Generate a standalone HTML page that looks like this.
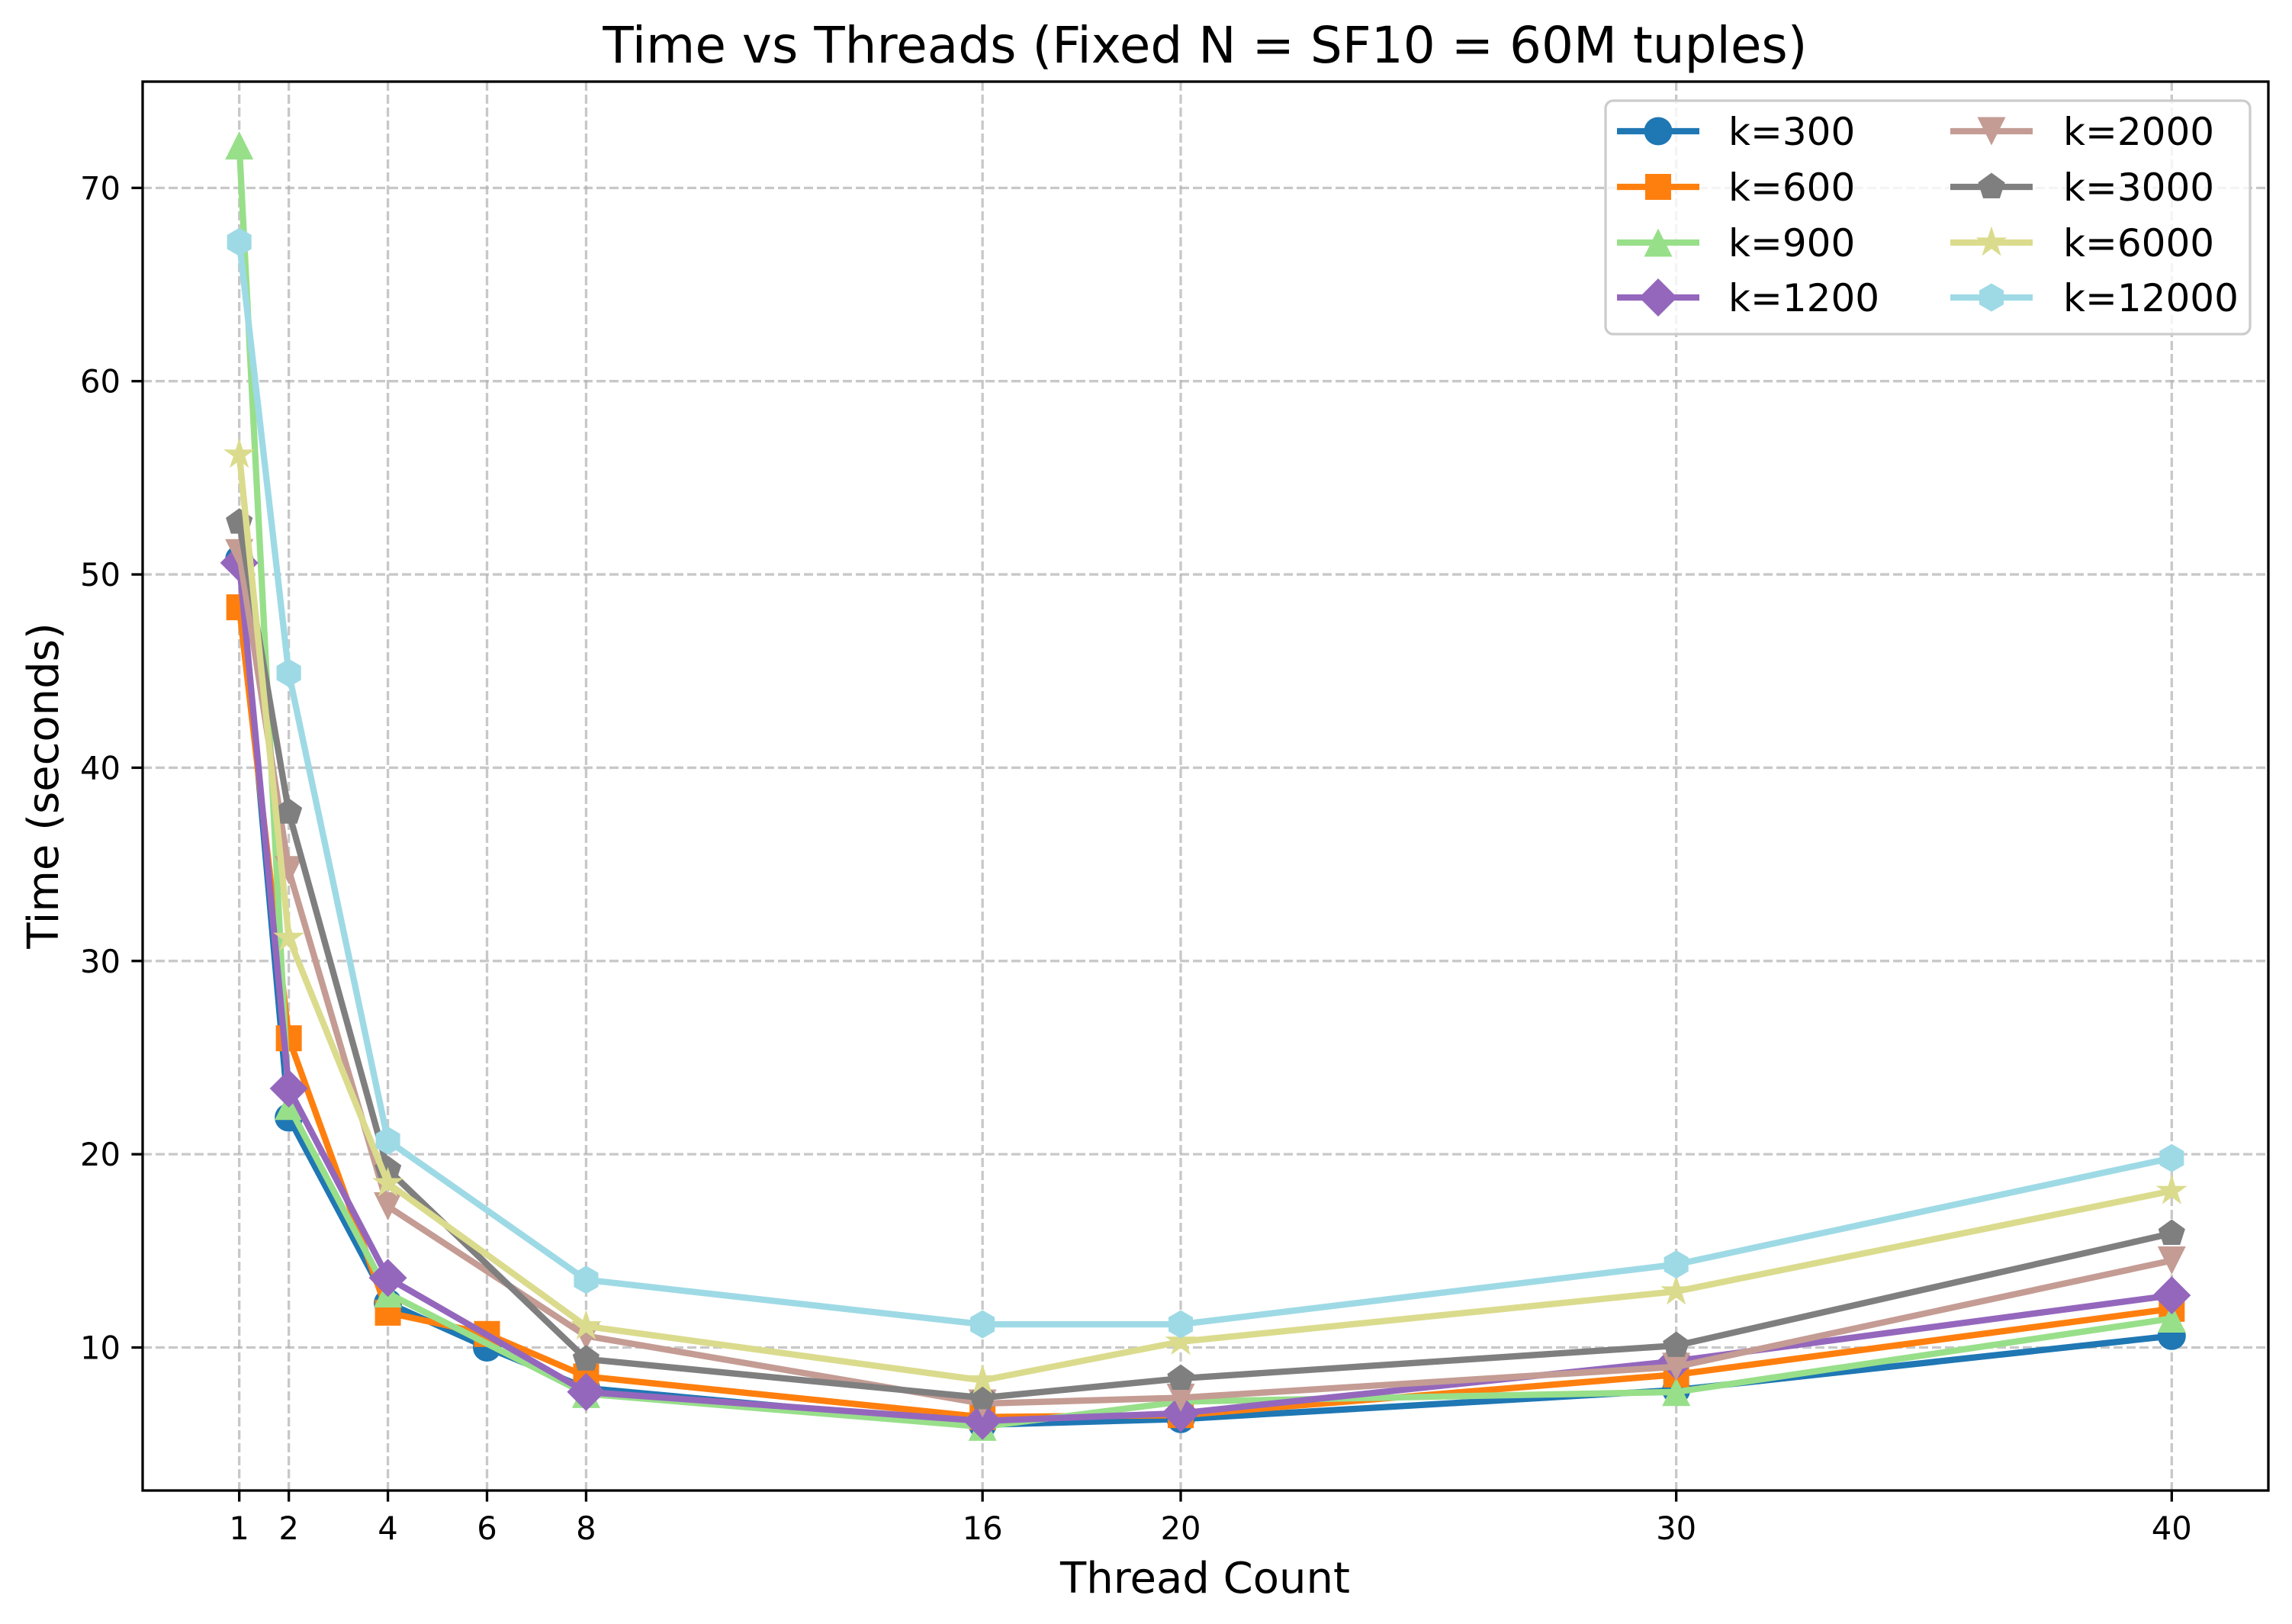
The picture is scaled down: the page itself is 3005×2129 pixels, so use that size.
<!DOCTYPE html>
<html><head><meta charset="utf-8"><style>
html,body{margin:0;padding:0;background:#fff}
svg{display:block;font-family:"DejaVu Sans","Liberation Sans",sans-serif}
</style></head><body>
<svg id="chart" width="3005" height="2129" viewBox="0 0 3005 2129" xmlns="http://www.w3.org/2000/svg">
<rect x="0" y="0" width="3005" height="2129" fill="#fff"/>
<g id="grid"></g>
<g id="series"></g>
<rect x="187" y="107" width="2787" height="1847" fill="none" stroke="#000" stroke-width="3.3"/>
<g id="ticks"></g>
<text x="1580" y="82" font-size="66" text-anchor="middle">Time vs Threads (Fixed N = SF10 = 60M tuples)</text>
<text x="1580" y="2088" font-size="56" text-anchor="middle">Thread Count</text>
<text transform="translate(76,1030) rotate(-90)" font-size="56" text-anchor="middle">Time (seconds)</text>
<g id="legend"></g>
</svg>
<script>
const threadsA = [1,2,4,6,8,16,20,30,40];
const threadsB = [1,2,4,8,16,20,30,40];
const seriesNames = ["k=300","k=600","k=900","k=1200","k=2000","k=3000","k=6000","k=12000"];
const k300 = [50.8,21.9,12.3,10.0,7.9,6.0,6.3,7.8,10.6];
const k600 = [48.3,26.0,11.8,10.7,8.5,6.4,6.5,8.6,12.0];
const k900 = [72.2,22.5,12.8,7.6,5.9,7.2,7.7,11.5];
const k1200 = [50.6,23.4,13.6,7.7,6.2,6.6,9.3,12.7];
const k2000 = [51.1,34.7,17.3,10.6,7.1,7.4,9.0,14.5];
const k3000 = [52.7,37.7,19.2,9.4,7.4,8.4,10.1,15.9];
const k6000 = [56.2,31.2,18.5,11.1,8.3,10.3,12.9,18.1];
const k12000 = [67.2,44.9,20.7,13.5,11.2,11.2,14.3,19.8];
const xTicks = [1,2,4,6,8,16,20,30,40];
const yTicks = [10,20,30,40,50,60,70];

const NS="http://www.w3.org/2000/svg";
const X0=187,X1=2974,Y0=1954,Y1=107;
const xMin=-0.95,xMax=41.95,yMin=2.6,yMax=75.5;
function xs(v){return X0+(v-xMin)/(xMax-xMin)*(X1-X0);}
function ys(v){return Y0-(v-yMin)/(yMax-yMin)*(Y0-Y1);}
function mk(tag,attrs,parent){const e=document.createElementNS(NS,tag);for(const k in attrs)e.setAttribute(k,attrs[k]);parent.appendChild(e);return e;}

const grid=document.getElementById('grid');
const ticks=document.getElementById('ticks');
xTicks.forEach(t=>{
  const gl=mk('line',{x1:xs(t),x2:xs(t),y1:Y1,y2:Y0,stroke:'#b0b0b0','stroke-opacity':0.7,'stroke-width':3.3,'stroke-dasharray':'12,5'},grid);
  
  
  const tl=mk('line',{x1:xs(t),x2:xs(t),y1:Y0,y2:Y0+14.6,stroke:'#000','stroke-width':3.3},ticks);
  
  
  const tx=mk('text',{x:xs(t),y:Y0+64,'font-size':41.7,'text-anchor':'middle'},ticks);
  tx.textContent=t;
  
  
});
yTicks.forEach(t=>{
  const gl=mk('line',{x1:X0,x2:X1,y1:ys(t),y2:ys(t),stroke:'#b0b0b0','stroke-opacity':0.7,'stroke-width':3.3,'stroke-dasharray':'12,5'},grid);
  
  
  const tl=mk('line',{x1:X0-14.6,x2:X0,y1:ys(t),y2:ys(t),stroke:'#000','stroke-width':3.3},ticks);
  
  
  const tx=mk('text',{x:X0-29,y:ys(t)+15,'font-size':41.7,'text-anchor':'end'},ticks);
  tx.textContent=t;
  
  
});

function poly(cx,cy,n,r,rot){let p=[];for(let i=0;i<n;i++){const a=rot+i*2*Math.PI/n;p.push((cx+r*Math.sin(a)).toFixed(1)+','+(cy-r*Math.cos(a)).toFixed(1));}return p.join(' ');}
function star(cx,cy,r){let p=[];for(let i=0;i<10;i++){const rr=i%2?r*0.381:r;const a=i*Math.PI/5;p.push((cx+rr*Math.sin(a)).toFixed(1)+','+(cy-rr*Math.cos(a)).toFixed(1));}return p.join(' ');}
function marker(type,cx,cy,color,parent){
  const s=37,h=s/2;let e;
  if(type==='o')e=mk('circle',{cx:cx,cy:cy,r:h},parent);
  else if(type==='s')e=mk('rect',{x:cx-17,y:cy-17,width:34,height:34},parent);
  else if(type==='^')e=mk('polygon',{points:`${cx},${cy-h} ${cx-h},${cy+h} ${cx+h},${cy+h}`},parent);
  else if(type==='v')e=mk('polygon',{points:`${cx},${cy+h} ${cx-h},${cy-h} ${cx+h},${cy-h}`},parent);
  else if(type==='D')e=mk('polygon',{points:`${cx},${cy-25} ${cx+25},${cy} ${cx},${cy+25} ${cx-25},${cy}`},parent);
  else if(type==='p')e=mk('polygon',{points:poly(cx,cy,5,h,0)},parent);
  else if(type==='h')e=mk('polygon',{points:poly(cx,cy,6,h,0)},parent);
  else if(type==='*')e=mk('polygon',{points:star(cx,cy,h+3)},parent);
  e.setAttribute('fill',color);
  return e;
}

const defs=[
 {name:seriesNames[0],x:threadsA,y:k300,c:'#1f77b4',m:'o'},
 {name:seriesNames[1],x:threadsA,y:k600,c:'#ff7f0e',m:'s'},
 {name:seriesNames[2],x:threadsB,y:k900,c:'#98df8a',m:'^'},
 {name:seriesNames[3],x:threadsB,y:k1200,c:'#9467bd',m:'D'},
 {name:seriesNames[4],x:threadsB,y:k2000,c:'#c49c94',m:'v'},
 {name:seriesNames[5],x:threadsB,y:k3000,c:'#7f7f7f',m:'p'},
 {name:seriesNames[6],x:threadsB,y:k6000,c:'#dbdb8d',m:'*'},
 {name:seriesNames[7],x:threadsB,y:k12000,c:'#9edae5',m:'h'}
];
const sg=document.getElementById('series');
defs.forEach(d=>{
  const g=mk('g',{},sg);
  
  
  const pts=d.x.map((x,i)=>xs(x).toFixed(1)+','+ys(d.y[i]).toFixed(1)).join(' ');
  const pl=mk('polyline',{points:pts,fill:'none',stroke:d.c,'stroke-width':8.3,'stroke-linejoin':'round','stroke-linecap':'square'},g);
  
  
  d.x.forEach((x,i)=>{
    const m=marker(d.m,xs(x),ys(d.y[i]),d.c,g);
    
    
  });
});

const lg=document.getElementById('legend');
const box=mk('rect',{x:2105,y:132,width:845,height:306,rx:10,fill:'#fff','fill-opacity':0.8,stroke:'#cccccc','stroke-width':3.3},lg);


const rowsY=[172,245,318,390];
defs.forEach((d,i)=>{
  const col=Math.floor(i/4),row=i%4;
  const mx=col?2611:2174, lx=col?2705:2266, y=rowsY[row];
  const g=mk('g',{},lg);
  
  
  const l=mk('line',{x1:mx-54,x2:mx+54,y1:y,y2:y,stroke:d.c,'stroke-width':8.3},g);
  
  
  const m=marker(d.m,mx,y,d.c,g);
  
  
  const t=mk('text',{x:lx,y:y+18,'font-size':50},g);
  t.textContent=d.name;
  
  
});
</script>
</body></html>
